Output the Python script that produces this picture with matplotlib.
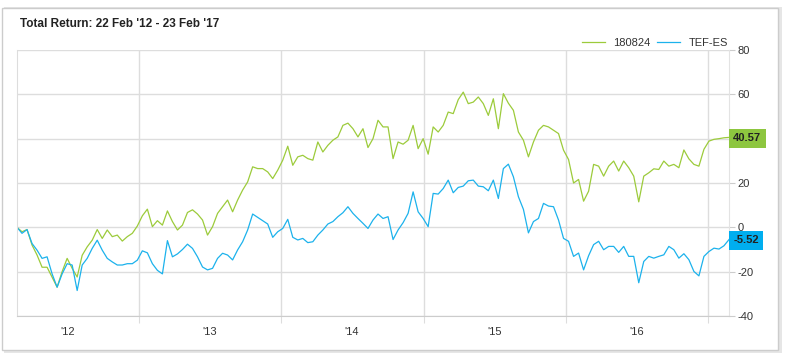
import matplotlib.pyplot as plt
import matplotlib.dates as mdates
from matplotlib.patches import Rectangle
import pandas as pd

# Total return (%), roughly every 13 days
start_date = '2012-02-22'
end_date = '2017-02-23'

ret_180824 = [
    0, -2, -1, -8, -12.5, -18, -18, -22.5, -27, -20, -14, -18.5, -22.4, -12.6, -8.8, -5.8, -1, -5, -1.2,
    -4.2, -3.5, -6.2, -4.2, -2.7, 0.6, 5.2, 8.2, 0.3, 3, 1, 7.4, 2.6, -1.2, 1, 6.7, 7.9, 6, 3.3,
    -3.5, 0.3, 6.3, 9.3, 12.3, 7, 12.3, 16.8, 20.5, 27.3, 26.5, 26.5, 25, 22, 25.8, 30.3, 36.6, 28,
    31.8, 32.5, 31, 30.3, 38.5, 34, 37, 39.3, 40.8, 46, 47, 44.5, 40.8, 44.5, 36, 40, 48.3, 45.3,
    45.3, 31, 38.5, 37.5, 39.3, 46, 35.5, 40, 33, 45.3, 43, 46, 52, 51.3, 57.6, 61, 55.8, 56.5,
    58.8, 55.8, 50.5, 58, 44.5, 60.3, 56, 52.8, 43, 39.3, 31.8, 38.5, 43.8, 46, 45.3, 43.8, 42.3, 34.8,
    30.6, 20, 21.6, 11.8, 16.3, 28.4, 27.6, 23.1, 27.6, 29.9, 25.4, 29.9, 26.9, 23.1, 11.5, 23.1, 24.6,
    26.4, 26.1, 29.9, 27.6, 28.4, 26.9, 34.9, 30.9, 28.4, 27.6, 35.2, 38.9, 39.7, 40, 40.4, 40.57,
]

ret_tef = [
    0, -2.7, -1, -7.3, -10.3, -14, -13.3, -21, -27, -21, -16.4, -17, -28.5, -17, -14, -9.5, -5.8, -10.3,
    -14, -15.6, -17, -17, -16.4, -16.4, -14.8, -10.6, -11.5, -16.4, -19.4, -21, -6, -13.3, -12, -10,
    -7.6, -9.5, -13.3, -17.9,
    -19.2, -18.5, -14, -11.7, -12.5, -14.7, -10.2, -6.5, -1.2, 6, 4.5, 3, 1.5, -4.5, -2, -0.5, 3.6,
    -4.5, -5.7, -5, -6.9, -6.5, -3.5, -1.2, 1.5, 2.6, 4.8, 6.6, 9.3, 6.3, 4, 1.8, -0.5, 3.3, 6, 4,
    4.8, -5.5, -1.2, 2.1, 6.3, 16, 7, 4, 0.3, 15.3, 15, 17.5, 21.3, 15.6, 18, 18.6, 21, 21.3, 18.6,
    18.3, 16.5, 21.3, 13, 26.5, 28.5, 22.8, 13.8, 8.1, -2.5, 2.6, 4, 10.8, 9.6, 9.3, 3.3, -5,
    -6.3, -13.1, -11.6, -19.2, -12.8, -7.8, -6.3, -10.1, -8.6, -8.6, -11.3, -8.6, -13.1, -13.1, -25,
    -15.4, -13.1, -13.9, -13.1, -12.4, -8.6, -10.1, -13.9, -11.9, -14.6, -19.9, -21.9, -13.1, -10.9,
    -9.4, -9.8, -8.3, -5.52,
]

yticks = [-40, -20, 0, 20, 40, 60, 80]
# the 40 label sits under the last-value tag in the original
ytick_labels = ['-40', '-20', '0', '20', '', '60', '80']
green = '#9CCB3B'
blue = '#1CB2EC'

dates = pd.date_range(start_date, end_date, periods=len(ret_180824))

fig = plt.figure(figsize=(7.86, 3.58), dpi=100)
plt.rcParams['font.family'] = ['Liberation Sans', 'DejaVu Sans']

# card frame with a light shadow
fig.patches.append(Rectangle((4 / 786, 5 / 358), 778 / 786, 346 / 358, transform=fig.transFigure,
                             facecolor='#e6e6e6', edgecolor='none', zorder=-2))
fig.patches.append(Rectangle((2 / 786, 8 / 358), 776 / 786, 342 / 358, transform=fig.transFigure,
                             facecolor='white', edgecolor='#cccccc', lw=1, zorder=-1))

ax = fig.add_axes([17 / 786, 1 - 316 / 358, 712 / 786, 266 / 358])
ax.set_facecolor('none')

ax.plot(dates, ret_180824, color=green, lw=0.9, label='180824')
ax.plot(dates, ret_tef, color=blue, lw=0.9, label='TEF-ES')

ax.set_xlim(dates[0], dates[-1])
ax.set_ylim(-40, 80)
ax.set_yticks(yticks)
ax.set_yticklabels(ytick_labels)
ax.yaxis.tick_right()
ax.tick_params(axis='y', length=4, color='#cccccc', pad=2, labelsize=8, labelcolor='#333333')

ax.xaxis.set_major_locator(mdates.YearLocator())
ax.xaxis.set_major_formatter(plt.NullFormatter())
ax.xaxis.set_minor_locator(mdates.MonthLocator(bymonth=7, bymonthday=1))
ax.xaxis.set_minor_formatter(mdates.DateFormatter("'%y"))
ax.tick_params(axis='x', which='major', length=5, color='#dddddd')
ax.tick_params(axis='x', which='minor', length=0, pad=8, labelsize=8, labelcolor='#333333')

ax.grid(True, which='major', color='#dddddd', lw=1)
ax.set_axisbelow(True)
ax.spines['top'].set_visible(False)
ax.spines['right'].set_color('#e3e3e3')
ax.spines['left'].set_color('#dddddd')
ax.spines['bottom'].set_color('#cccccc')

# last value tags
for val, col in [(ret_180824[-1], '#8DC63F'), (ret_tef[-1], '#00AEEF')]:
    ax.annotate(f'{val:.2f}', xy=(1.0, val), xycoords=('axes fraction', 'data'),
                xytext=(3, -0.5), textcoords='offset points', ha='left', va='center',
                fontsize=8, fontweight='bold', color='#222222', zorder=5, annotation_clip=False,
                bbox=dict(boxstyle='square,pad=0.4', facecolor=col, edgecolor='none'))

ax.legend(loc='lower right', bbox_to_anchor=(1.0, 1.005), ncol=2, frameon=False, fontsize=8,
          handlelength=2.0, handletextpad=0.8, columnspacing=0.6, borderaxespad=0, borderpad=0.1,
          labelcolor='#333333')

fig.text(20 / 786, 1 - 24 / 358, "Total Return: 22 Feb '12 - 23 Feb '17", fontsize=8.5,
         fontweight='bold', color='#222222', va='center', ha='left')

fig.savefig('out.png', dpi=100)
